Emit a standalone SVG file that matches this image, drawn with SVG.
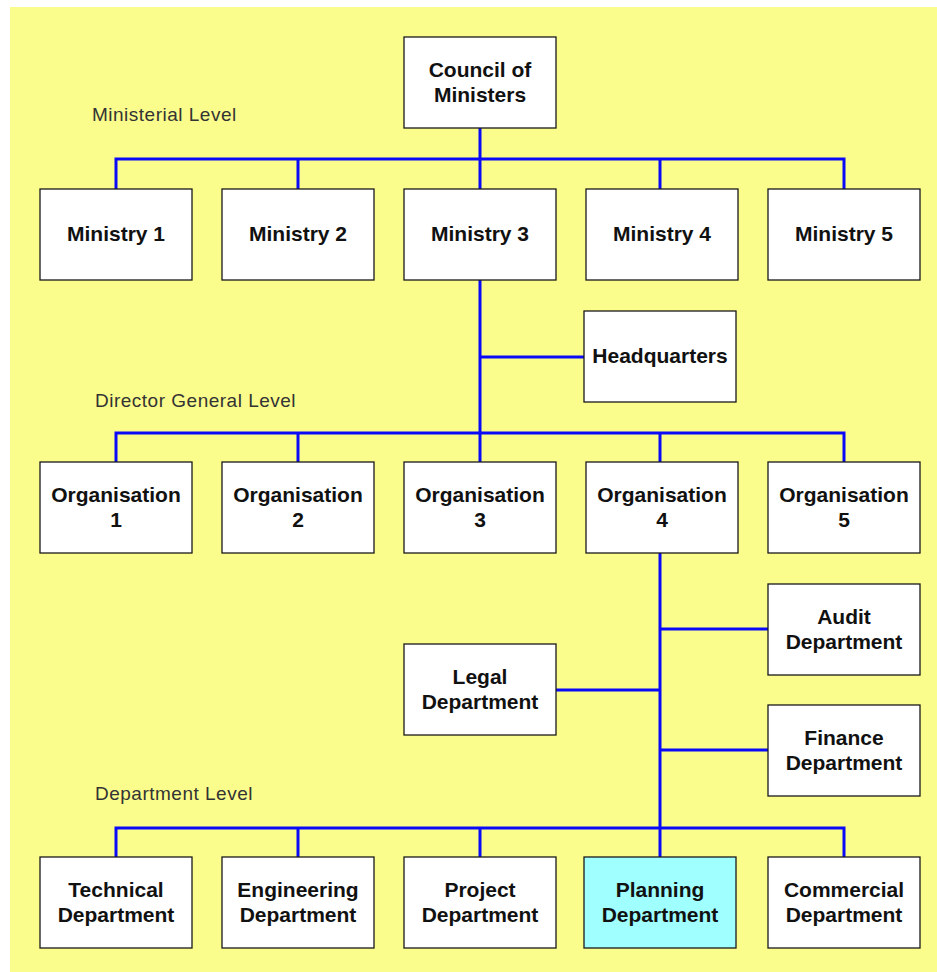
<svg xmlns="http://www.w3.org/2000/svg" width="937" height="972" viewBox="0 0 937 972">
  <style>
    .bg { fill: #FAFC8C; }
    .box { fill: #ffffff; stroke: #1a1a1a; stroke-width: 1.3; }
    .box.hl { fill: #A0FFFF; }
    .lbl { font-family: "Liberation Sans", Arial, sans-serif; font-weight: bold; font-size: 21px; fill: #111111; text-anchor: middle; }
    .lvl { font-family: "Liberation Sans", Arial, sans-serif; font-size: 19px; letter-spacing: 0.5px; fill: #333333; }
    .wire { fill: none; stroke: #0A0AF8; stroke-width: 3; stroke-linecap: butt; stroke-linejoin: miter; }
  </style>

  <rect class="bg" x="10" y="7" width="927" height="965"/>

  <!-- level captions -->
  <text class="lvl" x="92" y="121">Ministerial Level</text>
  <text class="lvl" x="95" y="407">Director General Level</text>
  <text class="lvl" x="95" y="800">Department Level</text>

  <!-- connectors -->
  <g id="connectors">
    <path class="wire" d="M480,128 V189"/>
    <path class="wire" d="M116,189 V159 H844 V189 M298,159 V189 M660,159 V189"/>
    <path class="wire" d="M480,280 V462"/>
    <path class="wire" d="M480,357 H584"/>
    <path class="wire" d="M116,462 V433 H844 V462 M298,433 V462 M660,433 V462"/>
    <path class="wire" d="M660,553 V857"/>
    <path class="wire" d="M660,629 H768"/>
    <path class="wire" d="M660,750 H768"/>
    <path class="wire" d="M556,690 H660"/>
    <path class="wire" d="M116,857 V828 H844 V857 M298,828 V857 M480,828 V857"/>
  </g>

  <!-- top -->
  <g id="council">
    <rect class="box" x="404" y="37" width="152" height="91"/>
    <text class="lbl" x="480" y="77">Council of</text>
    <text class="lbl" x="480" y="102">Ministers</text>
  </g>

  <!-- ministerial row -->
  <g id="ministry1">
    <rect class="box" x="40" y="189" width="152" height="91"/>
    <text class="lbl" x="116" y="241">Ministry 1</text>
  </g>
  <g id="ministry2">
    <rect class="box" x="222" y="189" width="152" height="91"/>
    <text class="lbl" x="298" y="241">Ministry 2</text>
  </g>
  <g id="ministry3">
    <rect class="box" x="404" y="189" width="152" height="91"/>
    <text class="lbl" x="480" y="241">Ministry 3</text>
  </g>
  <g id="ministry4">
    <rect class="box" x="586" y="189" width="152" height="91"/>
    <text class="lbl" x="662" y="241">Ministry 4</text>
  </g>
  <g id="ministry5">
    <rect class="box" x="768" y="189" width="152" height="91"/>
    <text class="lbl" x="844" y="241">Ministry 5</text>
  </g>

  <g id="headquarters">
    <rect class="box" x="584" y="311" width="152" height="91"/>
    <text class="lbl" x="660" y="363">Headquarters</text>
  </g>

  <!-- director general row -->
  <g id="org1">
    <rect class="box" x="40" y="462" width="152" height="91"/>
    <text class="lbl" x="116" y="502">Organisation</text>
    <text class="lbl" x="116" y="527">1</text>
  </g>
  <g id="org2">
    <rect class="box" x="222" y="462" width="152" height="91"/>
    <text class="lbl" x="298" y="502">Organisation</text>
    <text class="lbl" x="298" y="527">2</text>
  </g>
  <g id="org3">
    <rect class="box" x="404" y="462" width="152" height="91"/>
    <text class="lbl" x="480" y="502">Organisation</text>
    <text class="lbl" x="480" y="527">3</text>
  </g>
  <g id="org4">
    <rect class="box" x="586" y="462" width="152" height="91"/>
    <text class="lbl" x="662" y="502">Organisation</text>
    <text class="lbl" x="662" y="527">4</text>
  </g>
  <g id="org5">
    <rect class="box" x="768" y="462" width="152" height="91"/>
    <text class="lbl" x="844" y="502">Organisation</text>
    <text class="lbl" x="844" y="527">5</text>
  </g>

  <!-- staff departments -->
  <g id="audit">
    <rect class="box" x="768" y="584" width="152" height="91"/>
    <text class="lbl" x="844" y="624">Audit</text>
    <text class="lbl" x="844" y="649">Department</text>
  </g>
  <g id="legal">
    <rect class="box" x="404" y="644" width="152" height="91"/>
    <text class="lbl" x="480" y="684">Legal</text>
    <text class="lbl" x="480" y="709">Department</text>
  </g>
  <g id="finance">
    <rect class="box" x="768" y="705" width="152" height="91"/>
    <text class="lbl" x="844" y="745">Finance</text>
    <text class="lbl" x="844" y="770">Department</text>
  </g>

  <!-- department row -->
  <g id="technical">
    <rect class="box" x="40" y="857" width="152" height="91"/>
    <text class="lbl" x="116" y="897">Technical</text>
    <text class="lbl" x="116" y="922">Department</text>
  </g>
  <g id="engineering">
    <rect class="box" x="222" y="857" width="152" height="91"/>
    <text class="lbl" x="298" y="897">Engineering</text>
    <text class="lbl" x="298" y="922">Department</text>
  </g>
  <g id="project">
    <rect class="box" x="404" y="857" width="152" height="91"/>
    <text class="lbl" x="480" y="897">Project</text>
    <text class="lbl" x="480" y="922">Department</text>
  </g>
  <g id="planning">
    <rect class="box hl" x="584" y="857" width="152" height="91"/>
    <text class="lbl" x="660" y="897">Planning</text>
    <text class="lbl" x="660" y="922">Department</text>
  </g>
  <g id="commercial">
    <rect class="box" x="768" y="857" width="152" height="91"/>
    <text class="lbl" x="844" y="897">Commercial</text>
    <text class="lbl" x="844" y="922">Department</text>
  </g>
</svg>
